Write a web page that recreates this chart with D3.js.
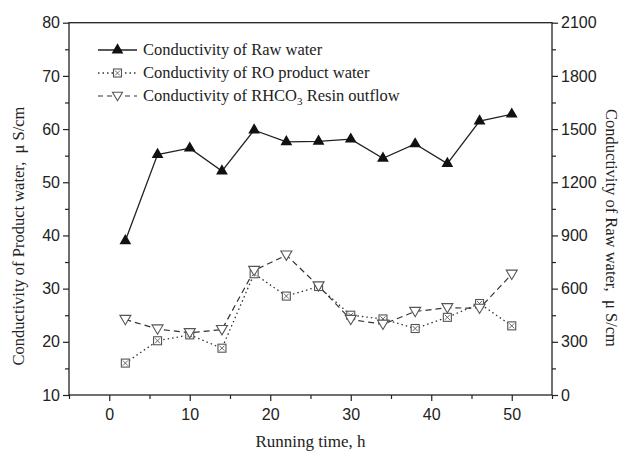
<!DOCTYPE html>
<html><head><meta charset="utf-8">
<script src="https://cdn.jsdelivr.net/npm/d3@7"></script>
<style>body{margin:0;background:#fff}svg{display:block}</style>
</head><body>
<script>
const hours = [2,6,10,14,18,22,26,30,34,38,42,46,50];
const rawWater = [870,1356,1392,1263,1494,1428,1431,1443,1335,1416,1305,1545,1584];
const roProduct = [16.0,20.2,21.3,18.8,32.8,28.6,30.4,25.0,24.3,22.5,24.6,27.2,23.0];
const resinOutflow = [24.2,22.4,21.7,22.3,33.4,36.3,30.5,24.2,23.3,25.7,26.4,26.3,32.7];
const xTicks = [0,10,20,30,40,50];
const yLeftTicks = [10,20,30,40,50,60,70,80];
const yRightTicks = [0,300,600,900,1200,1500,1800,2100];

const W=627,H=453;
const m={l:69,r:552,t:22.7,b:395};
const svg=d3.select("body").append("svg").attr("width",W).attr("height",H);
const x=d3.scaleLinear().domain([-5,55]).range([m.l,m.r]);
const yL=d3.scaleLinear().domain([10,80]).range([m.b,m.t]);
const yR=d3.scaleLinear().domain([0,2100]).range([m.b,m.t]);
const sans="'Liberation Sans', Arial, sans-serif", serif="'Liberation Serif','Times New Roman',serif";

// frame
svg.append("rect").attr("x",m.l).attr("y",m.t).attr("width",m.r-m.l).attr("height",m.b-m.t)
  .attr("fill","none").attr("stroke","#222").attr("stroke-width",1.3);

function styleAxis(g){g.select(".domain").remove();g.selectAll("line").attr("stroke","#222").attr("stroke-width",1.2);
  g.selectAll("text").attr("font-family",sans).attr("font-size",16).attr("fill","#222");}

// x axis
const gx=svg.append("g").attr("transform",`translate(0,${m.b})`)
  .call(d3.axisBottom(x).tickValues(xTicks).tickSize(6).tickPadding(8).tickFormat(d3.format("d")));
styleAxis(gx);
svg.append("g").attr("transform",`translate(0,${m.b})`)
  .call(d3.axisBottom(x).tickValues([-5,5,15,25,35,45,55]).tickSize(4).tickFormat(""))
  .call(g=>{g.select(".domain").remove();g.selectAll("line").attr("stroke","#222").attr("stroke-width",1.2);});

// left axis
const gl=svg.append("g").attr("transform",`translate(${m.l},0)`)
  .call(d3.axisLeft(yL).tickValues(yLeftTicks).tickSize(6).tickPadding(3).tickFormat(d3.format("d")));
styleAxis(gl);
svg.append("g").attr("transform",`translate(${m.l},0)`)
  .call(d3.axisLeft(yL).tickValues([15,25,35,45,55,65,75]).tickSize(4).tickFormat(""))
  .call(g=>{g.select(".domain").remove();g.selectAll("line").attr("stroke","#222").attr("stroke-width",1.2);});

// right axis
const gr=svg.append("g").attr("transform",`translate(${m.r},0)`)
  .call(d3.axisRight(yR).tickValues(yRightTicks).tickSize(6).tickPadding(3).tickFormat(d3.format("d")));
styleAxis(gr);
svg.append("g").attr("transform",`translate(${m.r},0)`)
  .call(d3.axisRight(yR).tickValues([150,450,750,1050,1350,1650,1950]).tickSize(4).tickFormat(""))
  .call(g=>{g.select(".domain").remove();g.selectAll("line").attr("stroke","#222").attr("stroke-width",1.2);});

// titles
svg.append("text").attr("x",(m.l+m.r)/2).attr("y",447).attr("text-anchor","middle")
  .attr("font-family",serif).attr("font-size",17).attr("fill","#222").text("Running time, h");
svg.append("text").attr("transform",`translate(24,236) rotate(-90)`).attr("text-anchor","middle")
  .attr("font-family",serif).attr("font-size",16.5).attr("fill","#222").text("Conductivity of Product water,\u00A0\u00A0\u03BC\u00A0S/cm");
svg.append("text").attr("transform",`translate(606,228) rotate(90)`).attr("text-anchor","middle")
  .attr("font-family",serif).attr("font-size",16.5).attr("fill","#222").text("Conductivity of Raw water,\u00A0\u00A0\u03BC\u00A0S/cm");

// markers
const triUp=d3.symbol().type(d3.symbolTriangle).size(60);
const triDown=(cx,cy,s)=>`M${cx-s},${cy-s*0.75}L${cx+s},${cy-s*0.75}L${cx},${cy+s*0.95}Z`;
function boxX(g,cx,cy){const s=4;
  g.append("rect").attr("x",cx-s).attr("y",cy-s).attr("width",2*s).attr("height",2*s).attr("fill","#fff").attr("stroke","#555").attr("stroke-width",1.1);
  g.append("path").attr("d",`M${cx-s+1.5},${cy-s+1.5}L${cx+s-1.5},${cy+s-1.5}M${cx+s-1.5},${cy-s+1.5}L${cx-s+1.5},${cy+s-1.5}`).attr("stroke","#555").attr("stroke-width",0.9);}

const raw=hours.map((h,i)=>({h,v:rawWater[i]}));
const ro=hours.map((h,i)=>({h,v:roProduct[i]}));
const rs=hours.map((h,i)=>({h,v:resinOutflow[i]}));

svg.append("path").datum(rs).attr("fill","none").attr("stroke","#333").attr("stroke-width",1.2)
  .attr("stroke-dasharray","6,4").attr("d",d3.line().x(d=>x(d.h)).y(d=>yL(d.v)));
svg.append("path").datum(ro).attr("fill","none").attr("stroke","#333").attr("stroke-width",1.3)
  .attr("stroke-dasharray","1.5,3").attr("d",d3.line().x(d=>x(d.h)).y(d=>yL(d.v)));
svg.append("path").datum(raw).attr("fill","none").attr("stroke","#222").attr("stroke-width",1.3)
  .attr("d",d3.line().x(d=>x(d.h)).y(d=>yR(d.v)));

const gm=svg.append("g");
ro.forEach(d=>boxX(gm,x(d.h),yL(d.v)));
rs.forEach(d=>gm.append("path").attr("d",triDown(x(d.h),yL(d.v),5.5)).attr("fill","#fff").attr("stroke","#555").attr("stroke-width",1.1));
raw.forEach(d=>gm.append("path").attr("d",triUp()).attr("transform",`translate(${x(d.h)},${yR(d.v)})`).attr("fill","#111"));

// legend
const lg=svg.append("g");
const ly=[50,73,96], lx0=98, lx1=137, lxm=117.5, tx=143;
lg.append("line").attr("x1",lx0).attr("x2",lx1).attr("y1",ly[0]).attr("y2",ly[0]).attr("stroke","#222").attr("stroke-width",1.3);
lg.append("path").attr("d",triUp()).attr("transform",`translate(${lxm},${ly[0]})`).attr("fill","#111");
lg.append("line").attr("x1",lx0).attr("x2",lx1).attr("y1",ly[1]).attr("y2",ly[1]).attr("stroke","#333").attr("stroke-width",1.3).attr("stroke-dasharray","1.5,3");
boxX(lg,lxm,ly[1]);
lg.append("line").attr("x1",lx0).attr("x2",lx1).attr("y1",ly[2]).attr("y2",ly[2]).attr("stroke","#333").attr("stroke-width",1.2).attr("stroke-dasharray","5,4");
lg.append("path").attr("d",triDown(lxm,ly[2],5)).attr("fill","#fff").attr("stroke","#555").attr("stroke-width",1.1);
const lt=(i)=>lg.append("text").attr("x",tx).attr("y",ly[i]+5).attr("font-family",serif).attr("font-size",16.5).attr("fill","#222");
lt(0).text("Conductivity of Raw water");
lt(1).text("Conductivity of RO product water");
const t3=lt(2);
t3.append("tspan").text("Conductivity of RHCO");
t3.append("tspan").attr("font-size",11).attr("dy",4).text("3");
t3.append("tspan").attr("dy",-4).text(" Resin outflow");
</script>
</body></html>
